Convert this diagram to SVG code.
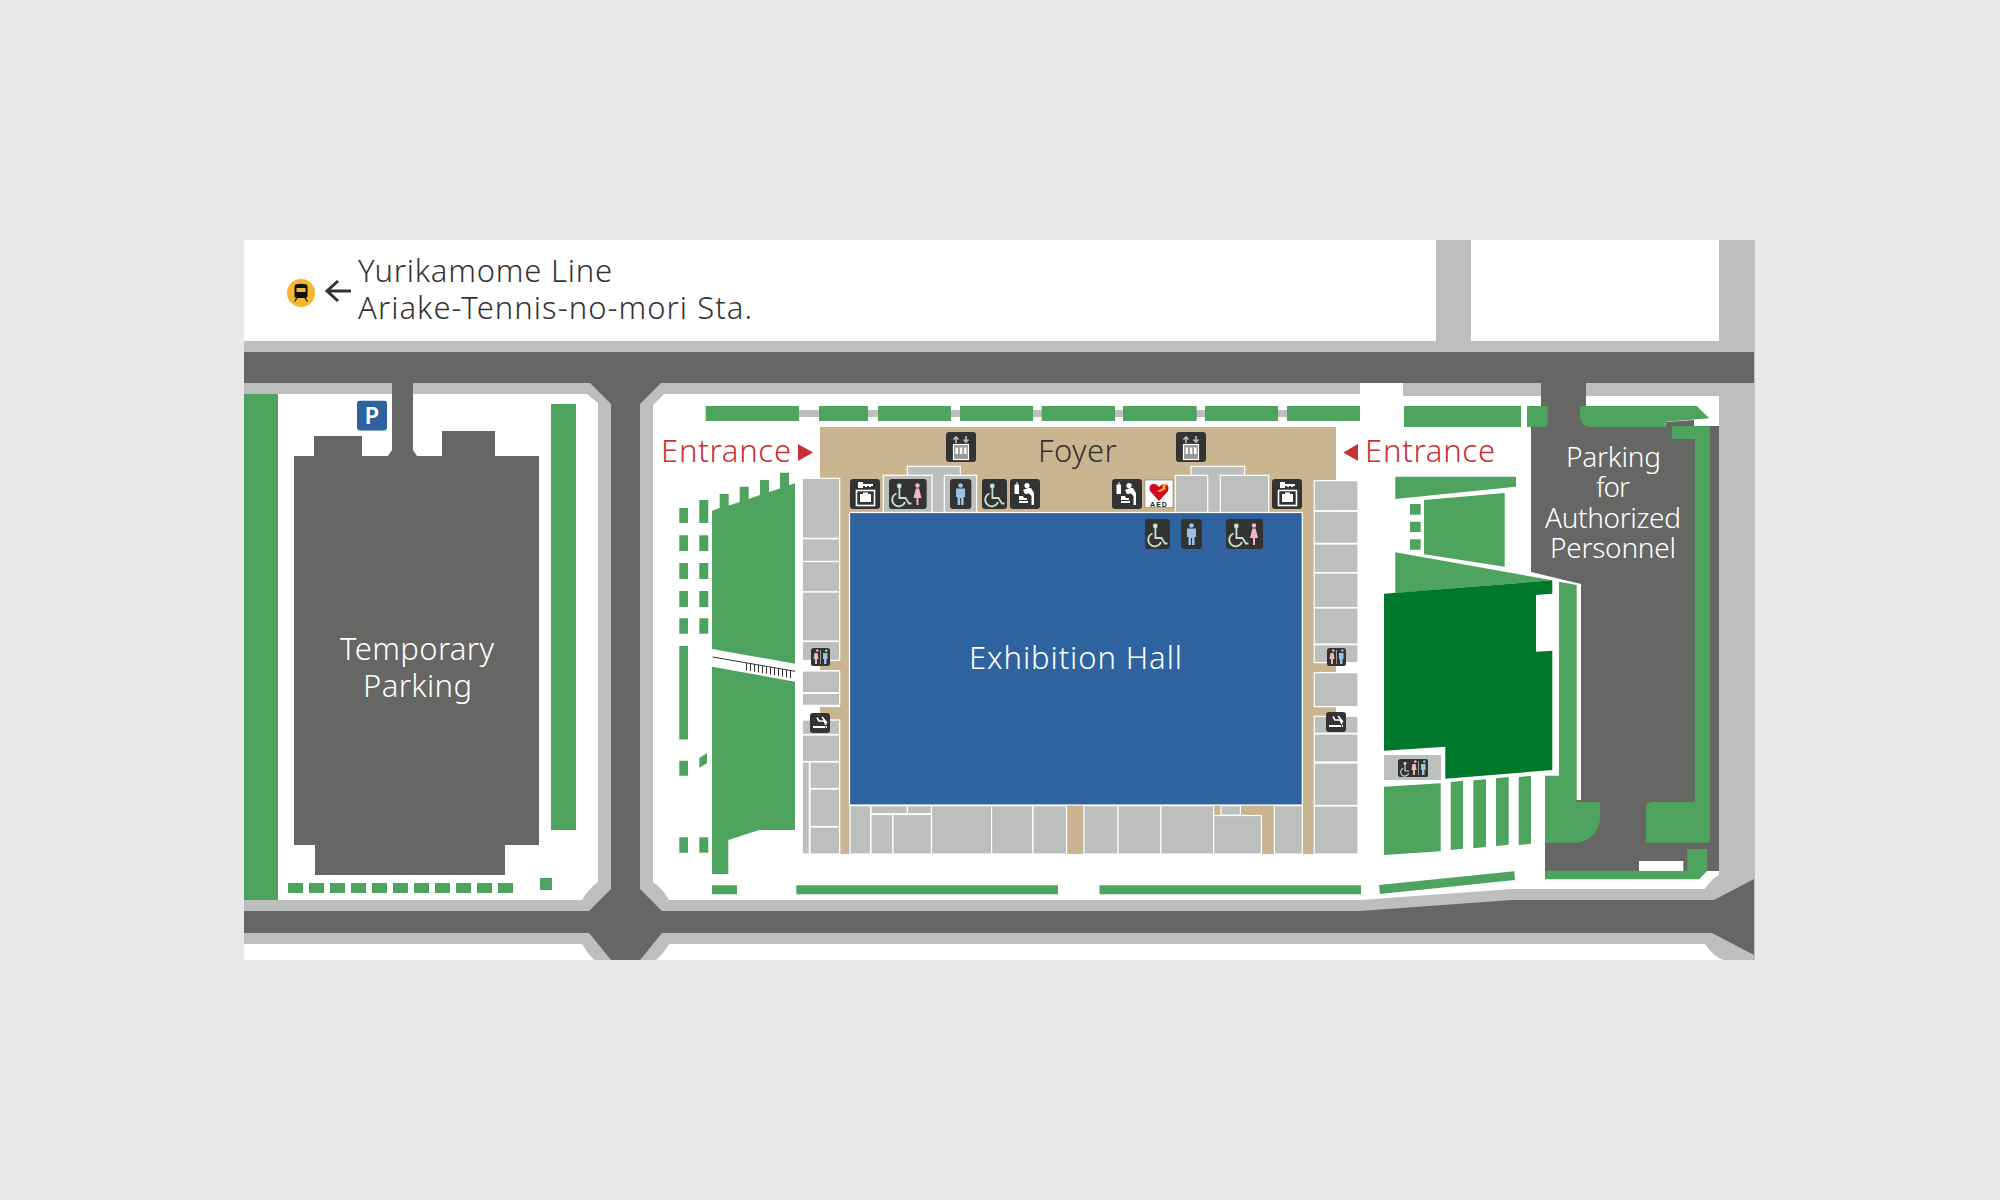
<svg xmlns="http://www.w3.org/2000/svg" xmlns:xlink="http://www.w3.org/1999/xlink" width="2000" height="1200" viewBox="0 0 2000 1200">
<style>
.g{fill:#bdbfbe}.d{fill:#666665}.h{fill:#4ea35f}.dg{fill:#00782c}.t{fill:#c9b58f}
.r{fill:#bdbfbe;stroke:#fff;stroke-width:1.2}
.ic{fill:#333}
.lb{font-family:"Noto Sans","Liberation Sans",sans-serif;font-weight:300;font-size:31px}
.sm{font-size:28px}
.w{fill:#fff}.k{fill:#333}.red{fill:#c63133}
.wcs{fill:none;stroke:#bfe3cc;stroke-width:1.8}
.wh{fill:none;stroke:#fff;stroke-width:1.6}
</style>
<defs>
<g id="wheel"><circle cx="10.3" cy="7" r="2.4" fill="#bfe3cc"/><path class="wcs" d="M10.4 9V19H16.5L20 24.5H22.5M7.5 14.5A6.6 6.6 0 1 0 16 23"/></g>
<g id="woman"><circle cx="0" cy="6.5" r="2.2" fill="#f2b9c3"/><path fill="#f2b9c3" d="M-1.6 9.5H1.6L4 19H1V26H-1V19H-4Z"/></g>
<g id="man"><circle cx="0" cy="6.5" r="2.3" fill="#9bc1e4"/><path fill="#9bc1e4" d="M-4.5 9.5H4.5V18H3V26H.5V19H-.5V26H-3V18H-4.5Z"/></g>
<g id="key"><rect width="30" height="30" rx="3" class="ic"/><path class="w" d="M8 3H13V5H23V7H21V8H19V7H17V8H15V7H13V9H8Z"/><rect x="6.5" y="11.5" width="18" height="15" class="wh"/><path class="w" d="M10 15H13V13.5H18V15H21V23H10Z"/></g>
<g id="baby"><rect width="30" height="30" rx="3" class="ic"/><path class="w" d="M6.500 3H7.500V5.500H9V15H4.500V5.500H6.500Z"/><circle cx="17" cy="6.500" r="2.600" class="w"/><path class="w" d="M13 11L18 9H21L24 14V26H21.500V17L19 14.500L15 15ZM9 17H13L14 19H17V21H9ZM9 22H18V24H9Z"/></g>
<g id="lift"><rect width="30" height="30" rx="3" class="ic"/><path fill="none" stroke="#bbb" stroke-width="1.600" d="M10 11V5M7.500 7.500L10 5L12.500 7.500M20 4V10M17.500 7.500L20 10L22.500 7.500"/><rect x="7.500" y="12.500" width="15" height="15" fill="#999" stroke="#fff" stroke-width="1.200"/><path class="w" d="M9.500 15.500H12V22H9.500ZM13.800 15.500H16.300V22H13.800ZM18 15.500H20.500V22H18Z"/></g>
<g id="wc3"><rect width="19" height="18" rx="2.500" class="ic"/><path fill="#f2b9c3" d="M5 2.500a1.300 1.300 0 1 1 0 .1ZM3.500 5H6.500L7.500 11H6V16H4V11H2.500Z"/><rect x="9" y="2" width="1" height="14" fill="#999"/><path fill="#9bc1e4" d="M14 2.500a1.300 1.300 0 1 1 0 .1ZM12 5H16.500V11H15.500V16H13V11H12Z"/></g>
<g id="smoke"><rect width="20" height="20" rx="3" class="ic"/><path class="w" d="M3 13H15V15H3ZM15.800 13H17V15H15.800Z"/><path class="wh" d="M7 4.500L9 8H14L16 12M12 4L17 10"/></g>
</defs>
<rect width="2000" height="1200" fill="#e9e9e9"/>
<rect x="244" y="240" width="1511" height="720" fill="#fff"/>

<g id="roads">
<rect class="g" x="244" y="341" width="1475" height="53"/>
<rect x="1360" y="383" width="43" height="14" fill="#fff"/>
<rect class="g" x="1403" y="383" width="316" height="13"/>
<rect class="g" x="1436" y="240" width="35" height="102"/>
<rect class="g" x="598" y="394" width="55" height="566"/>
<path class="g" d="M587 394H598V403ZM664 394H653V405Z"/>
<path class="g" d="M582 900Q589 888 598 882V900ZM669 900Q662 888 653 882V900ZM582 944Q587 953 594 960H598V944ZM669 944Q664 953 656 960H653V944Z"/>
<path class="g" d="M244 900H1360L1512 889H1705Q1710 880 1719 875V240H1755V960H1723Q1712 955 1705 944H244Z"/>
<rect class="d" x="244" y="352" width="1510" height="31"/>
<path class="d" d="M590 383L611 404V889L589 911V933L611 960H640L662 933V911L640 889V404L661 383Z"/>
<path class="d" d="M244 911H1360L1512 900H1714L1754 879V955L1712 933H244Z"/>
<path class="d" d="M1541 383H1586V427H1541ZM1531 426H1719V871H1545V800H1581V584L1531 572ZM1666 422L1694 420V427H1666Z"/>
</g>

<g id="temporary-parking">
<path class="d" d="M392 383H413V450L417 456H442V431H495V456H539V845H505V875H315V845H294V456H314V436H362V456H388L392 450Z"/>
<text class="lb w" x="340" y="660" textLength="154" lengthAdjust="spacing">Temporary</text>
<text class="lb w" x="363" y="697" textLength="109" lengthAdjust="spacing">Parking</text>
</g>

<g id="greenery">
<rect class="h" x="244" y="394" width="34" height="506"/>
<rect class="h" x="551" y="404" width="25" height="426"/>
<path class="h" d="M288 883h15v10h-15zM309 883h15v10h-15zM330 883h15v10h-15zM351 883h15v10h-15zM372 883h15v10h-15zM393 883h15v10h-15zM414 883h15v10h-15zM435 883h15v10h-15zM456 883h15v10h-15zM477 883h15v10h-15zM498 883h15v10h-15zM540 878h12v12h-12z"/>
<rect class="g" x="799" y="410" width="561" height="7"/>
<path class="h" d="M705.700 406H799V421H705.700ZM819 406H868V421H819ZM878 406H951V421H878ZM960 406H1033V421H960ZM1041.700 406H1115V421H1041.700ZM1123 406H1196.700V421H1123ZM1205 406H1278V421H1205ZM1287 406H1360V421H1287Z"/>
<path class="h" d="M712 510.700L719.700 508V494H728.700V505.500L739.700 502V486.700H748.700V499L760 495V480H769V492L780 488.500V472.700H789V485.300L795 483.300V663.700L712 649Z"/>
<path class="h" d="M712 666.700L795 681.700V830H759.300L728.300 840V874H712Z"/>
<path class="h" d="M679.300 508H688V523H679.300ZM699.300 500H708.300V523H699.300ZM679.300 535.300H688V551H679.300ZM699.300 535.300H708.300V551H699.300ZM679.300 563H688V579H679.300ZM699.300 563H708.300V579H699.300ZM679.300 591H688V607H679.300ZM699.300 591H708.300V607H699.300ZM679.300 618.300H688V633.700H679.300ZM699.300 618.300H708.300V633.700H699.300ZM679.300 646H688V739.500H679.300ZM679.300 760.700H688V775.700H679.300ZM699.300 758L707 753V763.300L699.300 767.700ZM679.300 837.300H688V852.700H679.300ZM699.300 837.300H708.300V852.700H699.300Z"/>
<path class="h" d="M712 885.300H737V894.300H712ZM796.300 885.300H1058V894.300H796.300ZM1099.500 885.300H1361V894.300H1099.500ZM1379 885L1514.300 871.300L1515 880L1380 894Z"/>
<path class="h" d="M1395.300 476.700H1516V486.700L1395.300 499ZM1424 500L1504.700 493V566.700L1424 554.300ZM1410 504H1420.700V514.700H1410ZM1410 521.700H1420.700V532H1410ZM1410 539.300H1420.700V549.700H1410ZM1395.300 552.300L1552.300 580.300L1395.300 593Z"/>
<path class="dg" d="M1384 593.700L1552.300 580.300V593.700L1536 595V651.700L1552.300 650.700V770L1445.300 778.700V746.700L1384 750.700Z"/>
<path class="h" d="M1384 786.700L1440.700 783.300V851.300L1384 855ZM1450.700 782L1463 780.700V848.700L1450.700 850ZM1473.300 780.300L1486 779.300V847L1473.300 848.300ZM1496 778.300L1508.700 777V844.700L1496 846ZM1518.700 777L1531 775.700V843.700L1518.700 845Z"/>
<path class="h" d="M1404 406H1521V427H1404ZM1527 406H1547.700V421Q1547.700 427 1541.700 427H1527ZM1580 406H1696.700L1709.300 418.300L1665.700 421.700V427H1592Q1580 427 1580 415Z"/>
<path class="h" d="M1672 426H1710V842.700H1646V808Q1646 802 1652 802H1694.700V439H1672Z"/>
<path class="h" d="M1559 581.700L1576.700 585V802H1600V818A25 25 0 0 1 1575 842.700H1545V775.700H1559Z"/>
<path class="h" d="M1545 870.700H1687.300V849H1707.300V870.700L1699 879.300H1545Z"/>
<rect x="1639" y="861" width="44.300" height="10" fill="#fff"/>
</g>

<g id="exhibition-building">
<rect class="t" x="820" y="427" width="516" height="86"/>
<rect class="t" x="840" y="500" width="474" height="354"/>
<rect class="t" x="820" y="661" width="20" height="9"/>
<rect class="t" x="820" y="707" width="20" height="13"/>
<rect class="t" x="1314" y="500" width="22" height="163"/>
<rect class="t" x="1314" y="663" width="22" height="9"/>
<rect class="t" x="1314" y="707" width="22" height="9"/>

<rect class="r" x="907.300" y="466.300" width="53" height="47"/>
<rect class="r" x="883.300" y="475.300" width="48.700" height="37.200"/>
<rect class="r" x="944.300" y="475.300" width="32.400" height="37.200"/>
<rect class="r" x="1191" y="466.300" width="53.700" height="47"/>
<rect class="r" x="1175.300" y="475.300" width="32.400" height="37.200"/>
<rect class="r" x="1220.300" y="475.300" width="48.400" height="37.200"/>

<g id="rooms-left">
<rect class="r" x="802.300" y="478.300" width="37.400" height="60"/>
<rect class="r" x="802.300" y="538.800" width="37.400" height="22.700"/>
<rect class="r" x="802.300" y="561.500" width="37.400" height="30.500"/>
<rect class="r" x="802.300" y="592" width="37.400" height="49"/>
<rect class="r" x="802.300" y="641.500" width="37.400" height="19"/>
<rect class="r" x="802.300" y="671" width="37.400" height="21.700"/>
<rect class="r" x="802.300" y="693.300" width="37.400" height="12"/>
<rect class="r" x="802.300" y="720" width="37.400" height="14.500"/>
<rect class="r" x="802.300" y="735" width="37.400" height="26.500"/>
<rect class="r" x="802.300" y="762" width="7" height="92"/>
<rect class="r" x="810" y="762" width="29.700" height="26.500"/>
<rect class="r" x="810" y="789" width="29.700" height="37.500"/>
<rect class="r" x="810" y="827" width="29.700" height="27"/>
</g>
<g id="rooms-right">
<rect class="r" x="1314.200" y="480.700" width="43.800" height="30"/>
<rect class="r" x="1314.200" y="511.300" width="43.800" height="32"/>
<rect class="r" x="1314.200" y="544" width="43.800" height="28.500"/>
<rect class="r" x="1314.200" y="573" width="43.800" height="34.500"/>
<rect class="r" x="1314.200" y="608" width="43.800" height="36"/>
<rect class="r" x="1314.200" y="644.700" width="43.800" height="18"/>
<rect class="r" x="1314.200" y="672.700" width="43.800" height="34"/>
<rect class="r" x="1314.200" y="716.300" width="43.800" height="17"/>
<rect class="r" x="1314.200" y="734" width="43.800" height="28"/>
<rect class="r" x="1314.200" y="763" width="43.800" height="42.500"/>
<rect class="r" x="1314.200" y="806" width="43.800" height="48"/>
</g>
<g id="rooms-bottom">
<rect class="r" x="850" y="805.700" width="20.700" height="48.300"/>
<rect class="r" x="871" y="805.700" width="36.400" height="8"/>
<rect class="r" x="907.400" y="805.700" width="24.100" height="8"/>
<rect class="r" x="871" y="814.500" width="22" height="39.500"/>
<rect class="r" x="893" y="814.500" width="38.500" height="39.500"/>
<rect class="r" x="931.500" y="805.700" width="60.100" height="48.300"/>
<rect class="r" x="991.600" y="805.700" width="41.400" height="48.300"/>
<rect class="r" x="1033" y="805.700" width="33.600" height="48.300"/>
<rect class="r" x="1084" y="805.700" width="34" height="48.300"/>
<rect class="r" x="1118" y="805.700" width="42.800" height="48.300"/>
<rect class="r" x="1160.800" y="805.700" width="52.800" height="48.300"/>
<rect class="r" x="1221" y="805.700" width="19.400" height="9.500"/>
<rect class="r" x="1213.600" y="815.500" width="47.800" height="38.500"/>
<rect class="r" x="1274.400" y="805.700" width="28" height="48.300"/>
</g>
<rect x="849.500" y="512.500" width="452.800" height="292.500" fill="#2e639f" stroke="#fff" stroke-width="1.200"/>
<rect class="g" x="1384" y="755" width="57" height="25"/>
<text class="lb w" x="969" y="669" textLength="213" lengthAdjust="spacing">Exhibition Hall</text>
<text class="lb k" x="1038" y="462" textLength="78.700" lengthAdjust="spacing">Foyer</text>
</g>

<g id="stairs" stroke="#333" stroke-width="1" fill="none">
<path d="M712.700 657L795 671.300"/>
<path d="M746.500 663V670.500M750.500 663.500V671M754.500 664.300V671.800M758.500 665V672.500M762.500 665.700V673.200M766.500 666.300V673.800M770.500 667V674.500M774.500 667.700V675.200M778.500 668.400V675.900M782.500 669.100V676.600M786.500 669.800V677.300M790.500 670.500V678"/>
</g>

<g id="icons">
<use xlink:href="#lift" href="#lift" x="946" y="432"/>
<use xlink:href="#lift" href="#lift" x="1176" y="432"/>
<use xlink:href="#key" href="#key" x="850" y="479"/>
<use xlink:href="#key" href="#key" x="1272" y="479"/>
<g id="icon-wheel-woman"><rect class="ic" x="889" y="479" width="37.700" height="30" rx="3"/><use xlink:href="#wheel" href="#wheel" x="889" y="479"/><use xlink:href="#woman" href="#woman" x="917.500" y="479"/></g>
<g id="icon-man"><rect class="ic" x="950" y="479" width="21.300" height="30" rx="3"/><use xlink:href="#man" href="#man" x="960.600" y="479"/></g>
<g id="icon-wheel"><rect class="ic" x="982" y="479" width="25" height="30" rx="3"/><use xlink:href="#wheel" href="#wheel" x="982" y="479"/></g>
<use xlink:href="#baby" href="#baby" x="1010" y="479"/>
<use xlink:href="#baby" href="#baby" x="1112" y="479"/>
<g id="icon-aed">
<rect x="1145" y="480" width="28" height="27.700" fill="#fff" stroke="#777" stroke-width=".6"/>
<path fill="#d4091f" d="M1159 501L1150 491Q1148 485 1153 484Q1157 483.500 1159 487Q1162 483.500 1165 484Q1170 485 1168 491Z"/>
<path fill="#f5b731" d="M1157 491L1163 488L1162 486L1168 482L1165 487L1166 489L1160 492Z"/>
<text x="1159" y="507" text-anchor="middle" font-family="'Liberation Sans',sans-serif" font-size="7" font-weight="700" letter-spacing="1" fill="#222">AED</text>
</g>
<g id="icon-wheel-2"><rect class="ic" x="1145" y="519" width="25" height="30" rx="3"/><use xlink:href="#wheel" href="#wheel" x="1145" y="519"/></g>
<g id="icon-man-2"><rect class="ic" x="1181" y="519" width="21" height="30" rx="3"/><use xlink:href="#man" href="#man" x="1191.500" y="519"/></g>
<g id="icon-wheel-woman-2"><rect class="ic" x="1226" y="519" width="37" height="30" rx="3"/><use xlink:href="#wheel" href="#wheel" x="1226" y="519"/><use xlink:href="#woman" href="#woman" x="1254" y="519"/></g>
<use xlink:href="#wc3" href="#wc3" x="811" y="648"/>
<use xlink:href="#wc3" href="#wc3" x="1327" y="648"/>
<use xlink:href="#smoke" href="#smoke" x="810" y="713"/>
<use xlink:href="#smoke" href="#smoke" x="1326" y="712"/>
<g id="icon-wc-bottom"><rect class="ic" x="1398" y="759" width="30" height="18" rx="2.500"/>
<g transform="translate(1398 758) scale(.62)"><use xlink:href="#wheel" href="#wheel" x="1" y="2"/></g>
<use xlink:href="#wc3" href="#wc3" x="1409" y="759"/></g>
<g id="icon-p"><rect x="357" y="400.700" width="30" height="29.800" rx="3" fill="#2e639f"/><text x="372" y="424" text-anchor="middle" font-family="'Noto Sans','Liberation Sans',sans-serif" font-size="24" font-weight="600" fill="#fff">P</text></g>
<g id="icon-train"><circle cx="301" cy="293" r="14" fill="#f5b731"/><path fill="#111" d="M295.500 284.500Q301 283 306.500 284.500Q307.500 285 307.500 287V296Q307.500 298 305.500 298H296.500Q294.500 298 294.500 296V287Q294.500 285 295.500 284.500Z"/><rect x="296.500" y="288" width="9" height="4" fill="#f5b731"/><path stroke="#111" stroke-width="1.200" d="M297 298L294.500 301.500M305 298L307.500 301.500"/></g>
<path id="arrow" fill="none" stroke="#333" stroke-width="3" d="M351 291H328M338 281L327 291L338 301"/>
</g>

<g id="labels">
<text class="lb k" x="358" y="281.700" textLength="254" lengthAdjust="spacing">Yurikamome Line</text>
<text class="lb k" x="358" y="319" textLength="394" lengthAdjust="spacing">Ariake-Tennis-no-mori Sta.</text>
<text class="lb red" x="661" y="461.700" textLength="130" lengthAdjust="spacing">Entrance</text>
<path class="red" d="M798 444L813 452.500L798 461Z"/>
<text class="lb red" x="1365" y="461.700" textLength="130" lengthAdjust="spacing">Entrance</text>
<path class="red" d="M1358 444L1343.300 452.500L1358 461Z"/>
<text class="lb sm w" x="1566" y="466.700" textLength="95" lengthAdjust="spacing">Parking</text>
<text class="lb sm w" x="1596" y="496.700" textLength="34" lengthAdjust="spacing">for</text>
<text class="lb sm w" x="1545" y="527.700" textLength="136" lengthAdjust="spacing">Authorized</text>
<text class="lb sm w" x="1550" y="557.700" textLength="126" lengthAdjust="spacing">Personnel</text>
</g>
</svg>
